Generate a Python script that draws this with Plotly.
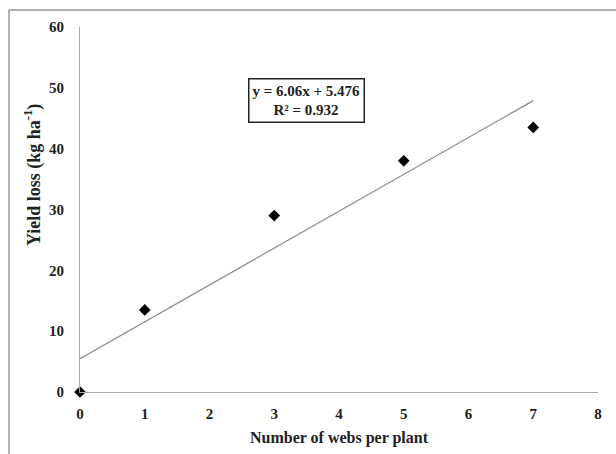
import plotly.graph_objects as go

webs = [0, 1, 3, 5, 7]
yield_loss = [0, 13.5, 29, 38, 43.5]
slope = 6.06
intercept = 5.476
trend_x = [0, 7]
trend_y = [intercept + slope * v for v in trend_x]
x_ticks = [0, 1, 2, 3, 4, 5, 6, 7, 8]
y_ticks = [0, 10, 20, 30, 40, 50, 60]

font = "Liberation Serif"

fig = go.Figure()
fig.add_trace(go.Scatter(x=trend_x, y=trend_y, mode="lines",
                         line=dict(color="#8a8a8a", width=1.2), showlegend=False))
fig.add_trace(go.Scatter(x=webs, y=yield_loss, mode="markers",
                         marker=dict(symbol="diamond", size=9, color="black"),
                         showlegend=False, cliponaxis=False))

fig.update_layout(
    width=616, height=454,
    margin=dict(l=80, r=18, t=27, b=62),
    paper_bgcolor="white", plot_bgcolor="white",
    font=dict(family=font, size=13, color="#222"),
    xaxis=dict(range=[0, 8], tickvals=x_ticks, showgrid=False, zeroline=False,
               showline=True, linecolor="#aaa", linewidth=1, ticks="",
               ticklabelstandoff=8,
               tickfont=dict(family=font, size=15, color="#222", weight="bold"),
               title=dict(text="<b>Number of webs per plant</b>", standoff=10,
                          font=dict(family=font, size=16, color="#222"))),
    yaxis=dict(range=[0, 60], tickvals=y_ticks, showgrid=False, zeroline=False,
               showline=True, linecolor="#aaa", linewidth=1, ticks="",
               ticklabelstandoff=12,
               tickfont=dict(family=font, size=15, color="#222", weight="bold")),
    shapes=[dict(type="line", xref="paper", yref="paper",
                 x0=-71/518, x1=1.2, y0=1 + 17/365, y1=1 + 17/365,
                 line=dict(color="#999", width=1.5)),
            dict(type="line", xref="paper", yref="paper",
                 x0=-71/518, x1=-71/518, y0=-0.4, y1=1 + 17/365,
                 line=dict(color="#999", width=1.5))],
    annotations=[dict(x=3.5, y=48.0, xref="x", yref="y",
                      text="<b>y = 6.06x + 5.476</b><br><b>R² = 0.932</b>",
                      showarrow=False, bordercolor="#222", borderwidth=1.5,
                      borderpad=3, bgcolor="white",
                      font=dict(family=font, size=15, color="#222")),
                 dict(x=(33 - 80) / 518, y=(392 - 175) / 365, xref="paper", yref="paper",
                      text="<b>Yield loss (kg ha<sup>-1</sup>)</b>", textangle=-90,
                      showarrow=False, xanchor="center", yanchor="middle",
                      font=dict(family=font, size=18, color="#222"))],
)
fig.write_html("out.html")
